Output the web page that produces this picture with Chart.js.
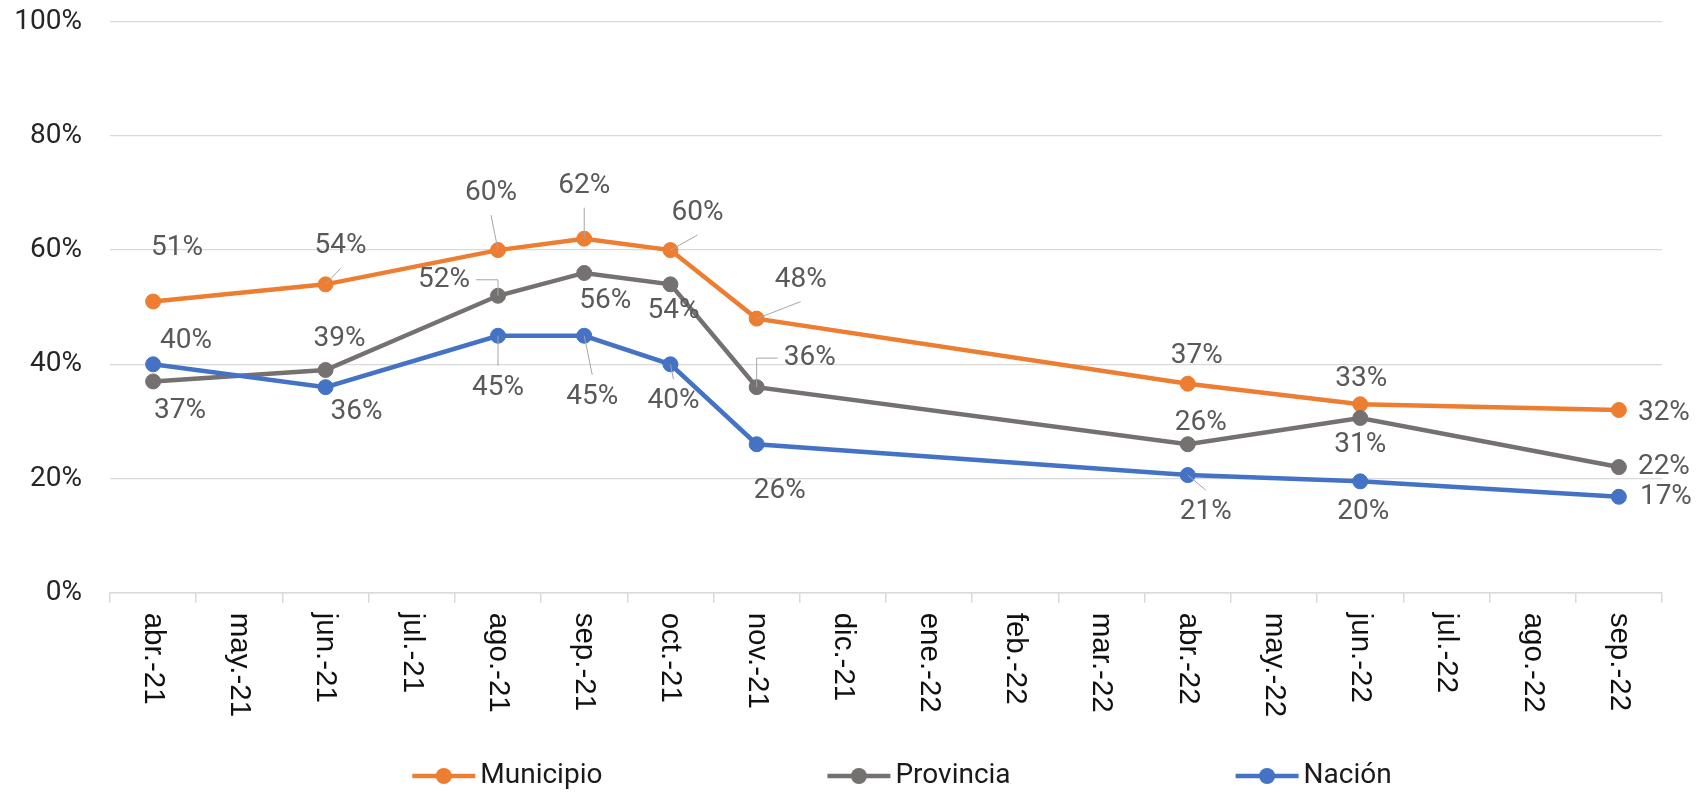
<!DOCTYPE html>
<html>
<head>
<meta charset="utf-8">
<title>Municipio / Provincia / Nación</title>
<script src="https://cdn.jsdelivr.net/npm/chart.js@4"></script>
<style>
  html, body { margin: 0; padding: 0; background: #fff; }
  #wrap { width: 1703px; height: 792px; }
</style>
</head>
<body>
<div id="wrap"><canvas id="chart" width="1703" height="792"></canvas></div>
<script>
const months = ['abr.-21', 'may.-21', 'jun.-21', 'jul.-21', 'ago.-21', 'sep.-21', 'oct.-21', 'nov.-21', 'dic.-21',
    'ene.-22', 'feb.-22', 'mar.-22', 'abr.-22', 'may.-22', 'jun.-22', 'jul.-22', 'ago.-22', 'sep.-22'];

// values in %, null = no survey that month
const municipio = [51, null, 54, null, 60, 62, 60, 48, null, null, null, null, 36.6, null, 33, null, null, 32];
const provincia = [37, null, 39, null, 52, 56, 54, 36, null, null, null, null, 26, null, 30.6, null, null, 22];
const nacion    = [40, null, 36, null, 45, 45, 40, 26, null, null, null, null, 20.6, null, 19.5, null, null, 16.8];

const seriesNames = ['Municipio', 'Provincia', 'Nación'];
const seriesColors = ['#ED7D31', '#767171', '#4472C4'];

// where each value label sits relative to its point: [dx, dy, leader line]
const municipioLabelPos = [[24, -53], [15, -38, 'line'], [-7, -57, 'line'], [0, -53, 'line'], [27, -37, 'line'],
    [44, -39, 'line'], [9, -28], [1, -25], [45, 3]];
const provinciaLabelPos = [[27, 30], [14, -31], [-54, -16, 'elbow'], [21, 28], [3, 27], [53, -29, 'elbow'],
    [13, -21], [0, 27], [45, 0]];
const nacionLabelPos = [[33, -23], [31, 25], [0, 52, 'line'], [8, 61, 'line'], [3, 37, 'line'], [23, 47],
    [18, 37, 'line'], [3, 31], [47, 0]];

const seriesData = [municipio, provincia, nacion];
const labelPos = [municipioLabelPos, provinciaLabelPos, nacionLabelPos];

const labelFont = '28px Roboto';

// value labels with leader lines
const pctLabels = {
    id: 'pctLabels',
    afterDatasetsDraw(chart) {
        const ctx = chart.ctx;
        ctx.save();
        ctx.font = labelFont;
        ctx.textAlign = 'center';
        ctx.textBaseline = 'middle';
        chart.data.datasets.forEach((ds, di) => {
            const meta = chart.getDatasetMeta(di);
            const pos = labelPos[di];
            let k = 0;
            ds.data.forEach((v, i) => {
                if (v === null) return;
                const [dx, dy, leader] = pos[k++];
                const pt = meta.data[i];
                const lx = pt.x + dx, ly = pt.y + dy;
                const text = Math.round(v) + '%';
                const w = ctx.measureText(text).width;
                ctx.strokeStyle = '#a6a6a6';
                ctx.lineWidth = 1;
                if (leader === 'line') {
                    const ey = ly + (dy < 0 ? 22 : -22);
                    ctx.beginPath(); ctx.moveTo(pt.x, pt.y); ctx.lineTo(lx, ey); ctx.stroke();
                } else if (leader === 'elbow') {
                    const sx = lx + (dx < 0 ? w / 2 + 6 : -(w / 2 + 6));
                    ctx.beginPath(); ctx.moveTo(sx, ly); ctx.lineTo(pt.x, ly); ctx.lineTo(pt.x, pt.y); ctx.stroke();
                }
                ctx.fillStyle = '#595959';
                ctx.fillText(text, lx, ly);
            });
        });
        ctx.restore();
    }
};

// month labels, turned to read top to bottom
const monthLabels = {
    id: 'monthLabels',
    afterDraw(chart) {
        const ctx = chart.ctx;
        const xs = chart.scales.x;
        ctx.save();
        ctx.font = "29.5px 'Liberation Sans', Arial, sans-serif";
        ctx.fillStyle = '#111';
        ctx.textAlign = 'left';
        ctx.textBaseline = 'middle';
        chart.data.labels.forEach((lab, i) => {
            ctx.save();
            ctx.translate(xs.getPixelForValue(i), chart.chartArea.bottom + 20);
            ctx.rotate(Math.PI / 2);
            ctx.fillText(lab, 0, 0);
            ctx.restore();
        });
        ctx.restore();
    }
};

// legend: line + marker + name, spread out along the bottom
const bottomLegend = {
    id: 'bottomLegend',
    afterDraw(chart) {
        const ctx = chart.ctx;
        ctx.save();
        ctx.font = labelFont;
        const lineLen = 63, gapText = 5, gapItems = 225, y = 776;
        const widths = chart.data.datasets.map(ds => ctx.measureText(ds.label).width);
        const total = widths.reduce((s, w) => s + w + lineLen + gapText, 0) + gapItems * (widths.length - 1);
        let x = 902 - total / 2;
        chart.data.datasets.forEach((ds, i) => {
            ctx.strokeStyle = ds.borderColor;
            ctx.lineWidth = 4.5;
            ctx.beginPath(); ctx.moveTo(x, y); ctx.lineTo(x + lineLen, y); ctx.stroke();
            ctx.fillStyle = ds.borderColor;
            ctx.beginPath(); ctx.arc(x + lineLen / 2, y, 8, 0, Math.PI * 2); ctx.fill();
            ctx.fillStyle = '#1a1a1a';
            ctx.textAlign = 'left';
            ctx.textBaseline = 'middle';
            ctx.fillText(ds.label, x + lineLen + gapText, y);
            x += lineLen + gapText + widths[i] + gapItems;
        });
        ctx.restore();
    }
};

const ctx = document.getElementById('chart').getContext('2d');
const chart = new Chart(ctx, {
    type: 'line',
    data: {
        labels: months,
        datasets: seriesNames.map((name, i) => ({
            label: name,
            data: seriesData[i],
            borderColor: seriesColors[i],
            backgroundColor: seriesColors[i],
            pointBackgroundColor: seriesColors[i],
            pointBorderColor: seriesColors[i],
            borderWidth: 4.5,
            pointRadius: 7.5,
            pointBorderWidth: 1,
            spanGaps: true,
            tension: 0,
            order: 2 - i
        }))
    },
    options: {
        responsive: false,
        animation: false,
        devicePixelRatio: 1,
        layout: { padding: { top: 0, right: 41, bottom: 50, left: 0 } },
        plugins: { legend: { display: false }, tooltip: { enabled: false } },
        scales: {
            x: {
                offset: true,
                grid: { offset: true, drawOnChartArea: false, drawTicks: true, tickLength: 10, color: '#d9d9d9', lineWidth: 1.5 },
                border: { color: '#d9d9d9', width: 1.5 },
                ticks: { display: false },
                afterFit(s) { s.height = 149.3; }
            },
            y: {
                min: 0,
                max: 100,
                ticks: {
                    stepSize: 20,
                    padding: 28,
                    color: '#262626',
                    font: { family: 'Roboto', size: 28 },
                    callback: v => v + '%'
                },
                grid: { color: '#d9d9d9', lineWidth: 1.3, drawTicks: false },
                border: { display: false },
                afterFit(s) {
                    s.width = 110;
                    s.paddingTop = 21.7; // tick padding would otherwise push the top down
                }
            }
        }
    },
    plugins: [pctLabels, monthLabels, bottomLegend]
});
</script>
</body>
</html>
